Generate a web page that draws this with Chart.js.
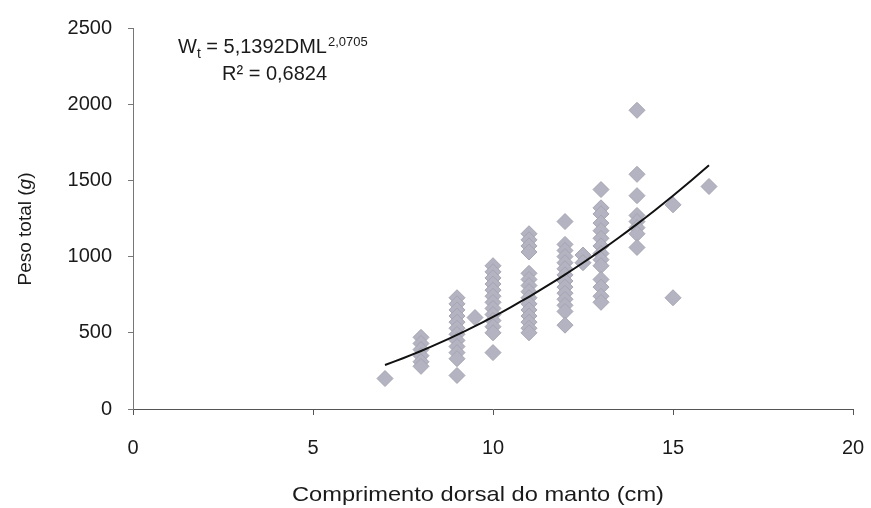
<!DOCTYPE html>
<html>
<head>
<meta charset="utf-8">
<script src="https://cdn.jsdelivr.net/npm/chart.js@4.4.1/dist/chart.umd.min.js"></script>
<style>
  html, body { margin: 0; padding: 0; background: #fff; }
  #wrap { width: 871px; height: 508px; }
</style>
</head>
<body>
<div id="wrap"><canvas id="dml-chart"></canvas></div>
<script>
// dorsal mantle length (cm) and the total weights (g) measured at each length
const dmlValues = [7, 8, 9, 9.5, 10, 11, 12, 12.5, 13, 14, 15, 16];
const weightGroups = [
  [200],
  [470, 430, 390, 350, 310, 280],
  [730, 690, 650, 610, 570, 530, 490, 450, 410, 370, 330, 220],
  [600],
  [940, 900, 860, 820, 780, 740, 700, 660, 620, 580, 540, 500, 370],
  [1150, 1110, 1070, 1030, 890, 850, 810, 770, 730, 690, 650, 610, 570, 530, 500],
  [1230, 1080, 1040, 1000, 960, 920, 880, 840, 800, 760, 720, 680, 640, 550],
  [1010, 960],
  [1440, 1320, 1280, 1220, 1170, 1120, 1070, 1020, 980, 940, 850, 800, 740, 700],
  [1960, 1540, 1400, 1270, 1230, 1190, 1150, 1060],
  [1340, 730],
  [1460],
];

// power fit Wt = a * DML^b
const fitA = 5.1392;
const fitB = 2.0705;
const fitFrom = 7;
const fitTo = 16;

const xTicks = [0, 5, 10, 15, 20];
const yTicks = [0, 500, 1000, 1500, 2000, 2500];

const xTitle = "Comprimento dorsal do manto (cm)";

const FONT = "'Liberation Sans', Arial, sans-serif";

const points = [];
dmlValues.forEach((x, i) => {
  weightGroups[i].forEach((y) => points.push({ x: x, y: y }));
});

const fitLine = [];
for (let x = fitFrom; x <= fitTo + 1e-9; x += 0.25) {
  fitLine.push({ x: x, y: fitA * Math.pow(x, fitB) });
}

// equation text and both axis titles (y title has an italic unit)
const textPlugin = {
  id: "chartText",
  afterDraw(chart) {
    const ctx = chart.ctx;
    ctx.save();
    ctx.fillStyle = "#1a1a1a";
    ctx.textBaseline = "alphabetic";
    ctx.textAlign = "left";

    let x = 178;
    ctx.font = "20px " + FONT;
    ctx.fillText("W", x, 53);
    x += ctx.measureText("W").width;
    ctx.font = "14px " + FONT;
    ctx.fillText("t", x, 58);
    x += ctx.measureText("t").width;
    ctx.font = "20px " + FONT;
    const main = " = 5,1392DML";
    ctx.fillText(main, x, 53);
    x += ctx.measureText(main).width;
    ctx.font = "13px " + FONT;
    ctx.fillText(fitB.toFixed(4).replace(".", ","), x + 1, 46);

    ctx.font = "20px " + FONT;
    ctx.fillText("R\u00b2 = 0,6824", 222, 80);

    // x axis title, a little wider than the plain font
    ctx.save();
    ctx.font = "21px " + FONT;
    ctx.textAlign = "center";
    ctx.translate(478, 501);
    ctx.scale(372 / ctx.measureText(xTitle).width, 1);
    ctx.fillText(xTitle, 0, 0);
    ctx.restore();

    // y axis title
    ctx.translate(24, 229);
    ctx.rotate(-Math.PI / 2);
    ctx.font = "19px " + FONT;
    const a = "Peso total (";
    const g = "g";
    const b = ")";
    const wa = ctx.measureText(a).width;
    const wb = ctx.measureText(b).width;
    ctx.font = "italic 19px " + FONT;
    const wg = ctx.measureText(g).width;
    let tx = -(wa + wg + wb) / 2;
    ctx.font = "19px " + FONT;
    ctx.fillText(a, tx, 7);
    ctx.font = "italic 19px " + FONT;
    ctx.fillText(g, tx + wa, 7);
    ctx.font = "19px " + FONT;
    ctx.fillText(b, tx + wa + wg, 7);
    ctx.restore();
  },
};

new Chart(document.getElementById("dml-chart"), {
  type: "scatter",
  data: {
    datasets: [
      {
        type: "line",
        data: fitLine,
        borderColor: "#111",
        borderWidth: 2,
        pointRadius: 0,
        fill: false,
        tension: 0,
        order: 0,
      },
      {
        data: points,
        pointStyle: "rectRot",
        pointRadius: 8,
        backgroundColor: "#b3b3c1",
        borderColor: "#a5a5b3",
        borderWidth: 1,
        order: 1,
      },
    ],
  },
  options: {
    responsive: true,
    maintainAspectRatio: false,
    animation: false,
    layout: { padding: { left: 0, top: 27, right: 18, bottom: 0 } },
    plugins: {
      legend: { display: false },
      tooltip: { enabled: false },
    },
    scales: {
      x: {
        type: "linear",
        min: 0,
        max: 20,
        afterFit: (scale) => {
          scale.height = 99;
          scale.paddingLeft = 0;
          scale.paddingRight = 0;
        },
        afterBuildTicks: (scale) => { scale.ticks = xTicks.map((v) => ({ value: v })); },
        ticks: {
          color: "#1a1a1a",
          font: { family: FONT, size: 20 },
          padding: 21,
          maxRotation: 0,
          callback: (v) => String(v),
        },
        grid: { drawOnChartArea: false, drawTicks: true, tickLength: 6, color: "#555" },
        border: { display: true, color: "#555", width: 1 },
      },
      y: {
        type: "linear",
        min: 0,
        max: 2500,
        afterFit: (scale) => { scale.width = 133; },
        afterBuildTicks: (scale) => { scale.ticks = yTicks.map((v) => ({ value: v })); },
        ticks: {
          color: "#1a1a1a",
          font: { family: FONT, size: 20 },
          padding: 16,
          callback: (v) => String(v),
        },
        grid: { drawOnChartArea: false, drawTicks: true, tickLength: 5, color: "#777" },
        border: { display: true, color: "#777", width: 1 },
      },
    },
  },
  plugins: [textPlugin],
});
</script>
</body>
</html>
